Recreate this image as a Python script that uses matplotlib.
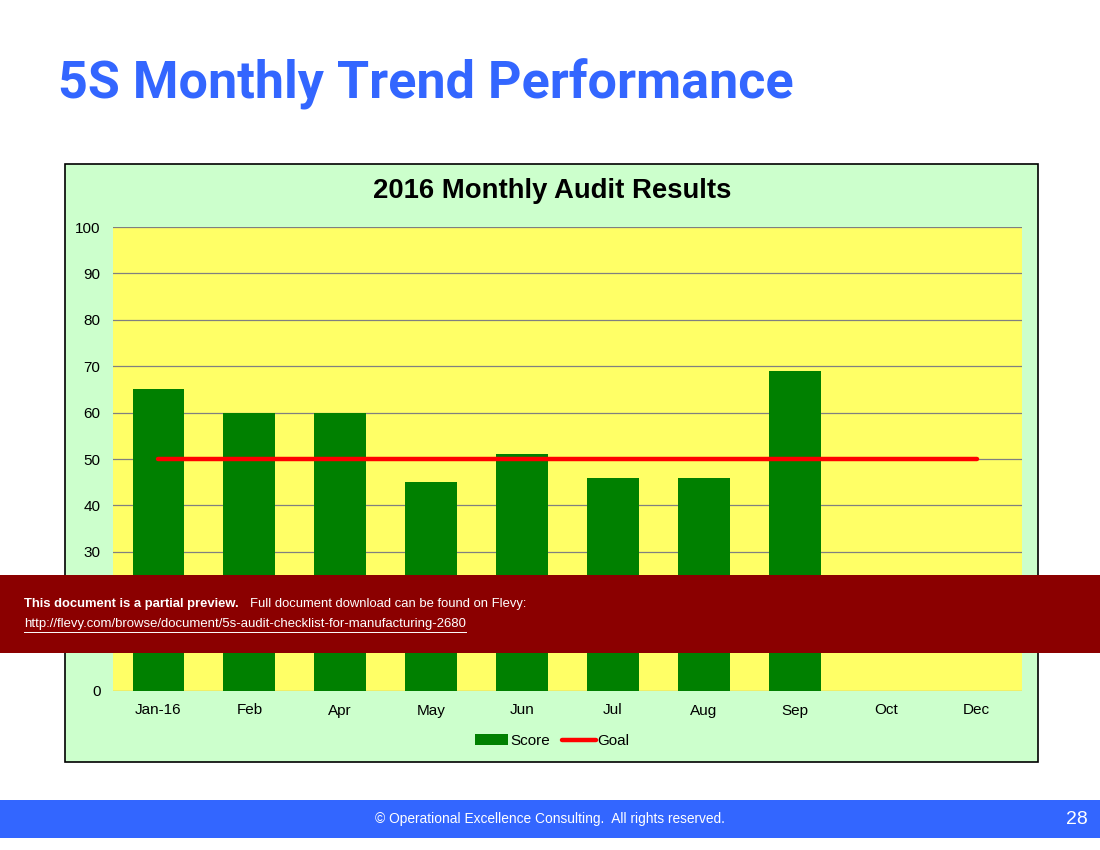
import matplotlib
matplotlib.use("Agg")
import matplotlib.pyplot as plt
import matplotlib.patches as patches
from matplotlib.lines import Line2D
from matplotlib import font_manager
import numpy as np

# --- DATA ---
months = ["Jan-16", "Feb", "Apr", "May", "Jun", "Jul", "Aug", "Sep", "Oct", "Dec"]
score = [65, 60, 60, 45, 51, 46, 46, 69, np.nan, np.nan]
goal = [50, 50, 50, 50, 50, 50, 50, 50, 50, 50]
y_ticks = [0, 10, 20, 30, 40, 50, 60, 70, 80, 90, 100]
# 10 and 20 sit under the preview banner in the reference
y_labels = ["0", "", "", "30", "40", "50", "60", "70", "80", "90", "100"]

# --- COLOURS ---
blue = "#3366FF"
chart_bg = "#CCFFCC"
plot_bg = "#FFFF66"
bar_green = "#008000"
banner_red = "#8B0000"

plt.rcParams["font.family"] = ["Liberation Sans", "DejaVu Sans"]

W, H = 1100, 850
fig = plt.figure(figsize=(11, 8.5), dpi=100)
fig.patch.set_facecolor("white")

def fx(px):
    return px / W

def fy(py):
    return 1 - py / H

# Slide title (narrow bold face if one is there)
installed = {f.name for f in font_manager.fontManager.ttflist}
if "Liberation Sans Narrow" in installed:
    title_fam, title_size = ["Liberation Sans Narrow"], 44
else:
    title_fam, title_size = ["Roboto", "Liberation Sans"], 37.5
fig.text(fx(58), fy(84), "5S Monthly Trend Performance", color=blue, fontsize=title_size,
         fontweight="bold", ha="left", va="center", family=title_fam)

# Outer chart box
box = patches.Rectangle((fx(65), fy(762)), fx(1038) - fx(65), fy(164) - fy(762),
                        transform=fig.transFigure, facecolor=chart_bg,
                        edgecolor="black", linewidth=1.2, zorder=0)
fig.add_artist(box)

fig.text(fx(552), fy(191), "2016 Monthly Audit Results", fontsize=19.8,
         fontweight="bold", ha="center", va="center", color="black")

# Plot area
ax = fig.add_axes([fx(113), fy(691), fx(1022) - fx(113), fy(227) - fy(691)], zorder=1)
ax.set_facecolor(plot_bg)
x = np.arange(len(months))
bars = ax.bar(x, score, width=0.57, color=bar_green, label="Score", zorder=2)
line, = ax.plot(x, goal, color="#FF0000", linewidth=3.2, label="Goal", zorder=3,
                solid_capstyle="round")
ax.set_xlim(-0.5, len(months) - 0.5)
ax.set_ylim(0, 100)
ax.set_yticks(y_ticks)
ax.set_yticklabels(y_labels)
ax.set_xticks(x)
ax.set_xticklabels(months)
ax.tick_params(axis="both", length=0, labelsize=11, colors="black")
ax.tick_params(axis="x", pad=9)
ax.tick_params(axis="y", pad=9)
ax.grid(axis="y", color="#808080", linewidth=0.9, zorder=1)
ax.set_axisbelow(True)
for s in ax.spines.values():
    s.set_visible(False)

leg = ax.legend(handles=[bars, line], labels=["Score", "Goal"], loc="center",
                bbox_to_anchor=(fx(552), fy(741)),
                bbox_transform=fig.transFigure, ncol=2, frameon=False,
                fontsize=11, handlelength=2.2, handletextpad=0.1,
                columnspacing=0.8)

# Preview banner
banner = patches.Rectangle((0, fy(653)), 1, fy(575) - fy(653),
                           transform=fig.transFigure, facecolor=banner_red,
                           edgecolor="none", zorder=10)
fig.add_artist(banner)
fig.text(fx(24), fy(604), "This document is a partial preview.", color="white",
         fontsize=9.4, fontweight="bold", ha="left", va="center", zorder=11)
fig.text(fx(250), fy(604), "Full document download can be found on Flevy:",
         color="white", fontsize=9.4, ha="left", va="center", zorder=11)
fig.text(fx(24), fy(624), "http://flevy.com/browse/document/5s-audit-checklist-for-manufacturing-2680",
         color="white", fontsize=9.45, ha="left", va="center", zorder=11)
fig.add_artist(Line2D([fx(24), fx(466)], [fy(632), fy(632)], color="white",
                      linewidth=0.7, transform=fig.transFigure, zorder=11))

# Footer
footer = patches.Rectangle((0, fy(838)), 1, fy(800) - fy(838),
                           transform=fig.transFigure, facecolor=blue,
                           edgecolor="none", zorder=10)
fig.add_artist(footer)
fig.text(fx(550), fy(819), "\u00a9 Operational Excellence Consulting.  All rights reserved.",
         color="white", fontsize=9.9, ha="center", va="center", zorder=11)
fig.text(fx(1088), fy(819), "28", color="white", fontsize=14, ha="right",
         va="center", zorder=11)

fig.savefig("out.png", dpi=100)
